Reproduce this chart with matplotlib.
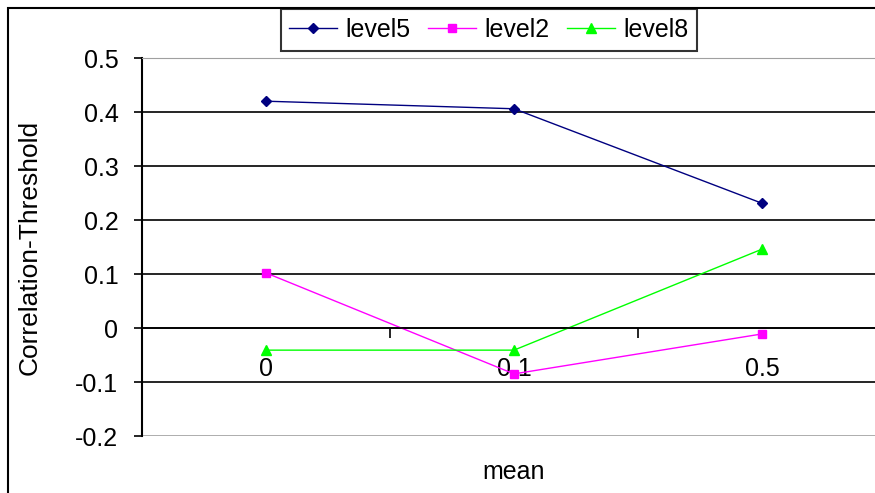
import matplotlib.pyplot as plt
from matplotlib.patches import Rectangle

# ======================================================
# Data
# ======================================================

categories = ["0", "0.1", "0.5"]
level5 = [0.420, 0.406, 0.231]
level2 = [0.102, -0.085, -0.011]
level8 = [-0.041, -0.041, 0.146]

y_ticks = [0.5, 0.4, 0.3, 0.2, 0.1, 0.0, -0.1, -0.2]
y_tick_labels = ["0.5", "0.4", "0.3", "0.2", "0.1", "0", "-0.1", "-0.2"]

# ======================================================
# Figure
# ======================================================

plt.rcParams["font.family"] = ["Liberation Sans", "DejaVu Sans"]

fig = plt.figure(figsize=(8.75, 4.93), dpi=100)
ax = fig.add_axes([142 / 875, 1 - 436 / 493, 744 / 875, 378 / 493])

x = list(range(len(categories)))

ax.plot(x, level5, color="#000080", marker="D", markersize=5, lw=1, label="level5")
ax.plot(x, level2, color="#FF00FF", marker="s", markersize=6, lw=1, label="level2")
ax.plot(x, level8, color="#00FF00", marker="^", markersize=7, lw=1, label="level8")

ax.set_xlim(-0.5, len(categories) - 0.5)
ax.set_ylim(-0.2, 0.5)

# y axis
ax.set_yticks(y_ticks)
ax.set_yticklabels(y_tick_labels, fontsize=18)
ax.tick_params(axis="y", direction="out", length=6, width=1.2, pad=11, color="black")

ax.grid(axis="y", color="black", lw=1.2)
for line, val in zip(ax.get_ygridlines(), ax.get_yticks()):
    if val in (0.5, -0.2):
        line.set_color("#A0A0A0")
ax.set_axisbelow(True)

# category axis at zero
ax.spines["bottom"].set_position(("data", 0))
ax.spines["bottom"].set_color("black")
ax.spines["bottom"].set_linewidth(1.2)
ax.spines["top"].set_color("#A0A0A0")
ax.spines["right"].set_visible(False)
ax.spines["left"].set_linewidth(1.5)

ax.set_xticks([i + 0.5 for i in x[:-1]])
ax.set_xticklabels([])
ax.set_xticks(x, minor=True)
ax.set_xticklabels(categories, minor=True, fontsize=18)
ax.tick_params(axis="x", which="major", direction="out", length=7, width=1.2)
ax.tick_params(axis="x", which="minor", length=0, pad=21)

ax.set_ylabel("Correlation-Threshold", fontsize=19)
ax.yaxis.set_label_coords(-0.1505, 0.5)
ax.yaxis.label.set_va("center")
ax.set_xlabel("mean", fontsize=18)
ax.xaxis.set_label_coords(0.5, -0.095)
ax.xaxis.label.set_va("center")

# legend
leg = fig.legend(loc="center", bbox_to_anchor=(489 / 875, 1 - 30 / 493), ncol=3,
                 fontsize=18, frameon=True, fancybox=False, edgecolor="black",
                 handlelength=1.9, handletextpad=0.35, columnspacing=0.7,
                 borderpad=0.35)
leg.get_frame().set_linewidth(1.5)

# outer chart border
fig.patches.append(Rectangle((8 / 875, -0.1), 1.1, 1.1 - 8 / 493,
                             transform=fig.transFigure, fill=False,
                             edgecolor="black", lw=1.5))

fig.savefig("out.png", dpi=100)
